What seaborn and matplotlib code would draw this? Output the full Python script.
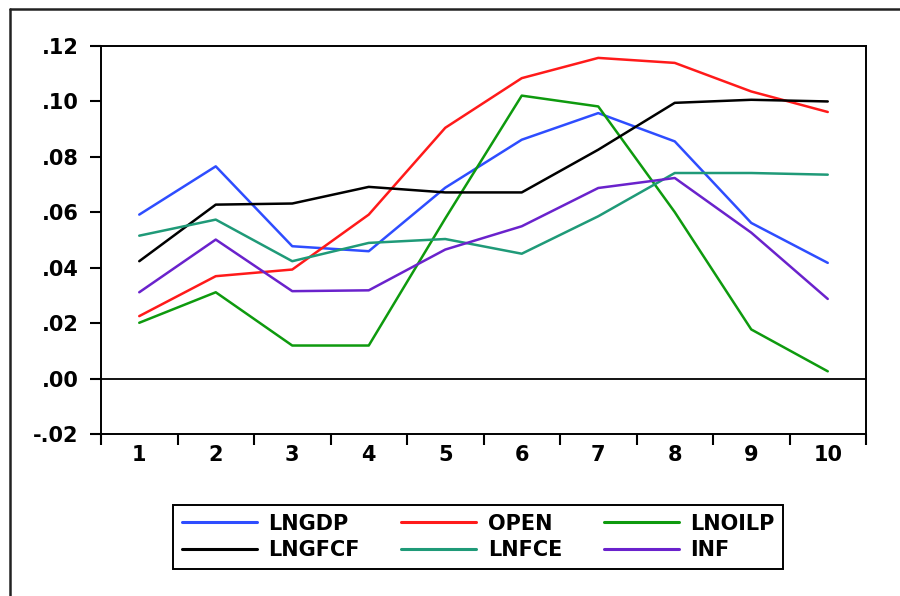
import matplotlib
matplotlib.use("Agg")
import matplotlib.pyplot as plt
from matplotlib.lines import Line2D
from matplotlib.ticker import FuncFormatter
import numpy as np
import pandas as pd
import seaborn as sns

periods = [1, 2, 3, 4, 5, 6, 7, 8, 9, 10]

lngdp = [0.0591, 0.0765, 0.0477, 0.0459, 0.0688, 0.0861, 0.0957, 0.0855, 0.0561, 0.0417]
open_ = [0.0225, 0.0369, 0.0393, 0.0591, 0.0904, 0.1083, 0.1156, 0.1138, 0.1035, 0.0961]
lnoilp = [0.0201, 0.0311, 0.0119, 0.0119, 0.0577, 0.1020, 0.0981, 0.0600, 0.0177, 0.0026]
lngfcf = [0.0423, 0.0627, 0.0631, 0.0691, 0.0671, 0.0671, 0.0825, 0.0994, 0.1005, 0.0999]
lnfce = [0.0515, 0.0573, 0.0423, 0.0489, 0.0503, 0.0450, 0.0585, 0.0741, 0.0741, 0.0735]
inf = [0.0311, 0.0501, 0.0315, 0.0318, 0.0465, 0.0549, 0.0687, 0.0723, 0.0526, 0.0287]

series = ["LNGDP", "OPEN", "LNOILP", "LNGFCF", "LNFCE", "INF"]
colors = ["#2e4dff", "#ff1a1a", "#0e9a0e", "#000000", "#1f9a78", "#6a22cc"]

df = pd.DataFrame({
    "period": periods * 6,
    "value": lngdp + open_ + lnoilp + lngfcf + lnfce + inf,
    "series": np.repeat(series, len(periods)),
})

sns.set_style("white")
plt.rcParams["font.family"] = ["DejaVu Sans"]
plt.rcParams["font.weight"] = "bold"
plt.rcParams["text.color"] = "black"
plt.rcParams["xtick.color"] = "black"
plt.rcParams["ytick.color"] = "black"

fig = plt.figure(figsize=(9, 5.96), dpi=100)
ax = fig.add_axes([101 / 900, 1 - 434 / 596, 765 / 900, (434 - 45.7) / 596])

sns.lineplot(data=df, x="period", y="value", hue="series", hue_order=series,
             palette=colors, linewidth=1.8, ax=ax, legend=False)

ax.axhline(0, color="black", linewidth=1.3, zorder=1)

ax.set_xlim(0.5, 10.5)
ax.set_ylim(-0.02, 0.12)
ax.set_xlabel("")
ax.set_ylabel("")

# boundaries get the ticks, the period numbers sit between them
ax.set_xticks(np.arange(0.5, 11, 1))
ax.set_xticklabels([])
ax.set_xticks(periods, minor=True)
ax.set_xticklabels([str(p) for p in periods], minor=True)
ax.tick_params(axis="x", which="major", direction="out", length=8, width=1.5,
               color="black", bottom=True)
ax.tick_params(axis="x", which="minor", length=0, pad=8, labelsize=15,
               labelcolor="black")

ax.set_yticks(np.arange(-0.02, 0.121, 0.02))
ax.yaxis.set_major_formatter(FuncFormatter(lambda v, _: f"{v:.2f}".replace("0.", ".")))
ax.tick_params(axis="y", direction="out", length=8, width=1.5, color="black",
               left=True, pad=8, labelsize=15, labelcolor="black")

for s in ax.spines.values():
    s.set_color("black")
    s.set_linewidth(1.4)

# outer frame, open to the right and bottom
fig.add_artist(Line2D([10 / 900, 1], [1 - 9 / 596, 1 - 9 / 596], color="#222222",
                      linewidth=1.8, transform=fig.transFigure))
fig.add_artist(Line2D([10 / 900, 10 / 900], [0, 1 - 9 / 596], color="#222222",
                      linewidth=1.8, transform=fig.transFigure))

# legend fills by column, so reorder to read row by row like the original
order = [0, 3, 1, 4, 2, 5]
handles = [Line2D([0], [0], color=colors[i], linewidth=2.2) for i in order]
labels = [series[i] for i in order]
leg = fig.legend(handles, labels, ncol=3, loc="upper left",
                 bbox_to_anchor=(173 / 900, 1 - 505 / 596),
                 frameon=True, fancybox=False, shadow=False, framealpha=1,
                 edgecolor="black", fontsize=15, handlelength=3.6,
                 handletextpad=0.55, columnspacing=2.0, labelspacing=0.3,
                 borderpad=0.42, borderaxespad=0, labelcolor="black")
leg.get_frame().set_linewidth(1.4)

fig.savefig("out.png", dpi=100)
